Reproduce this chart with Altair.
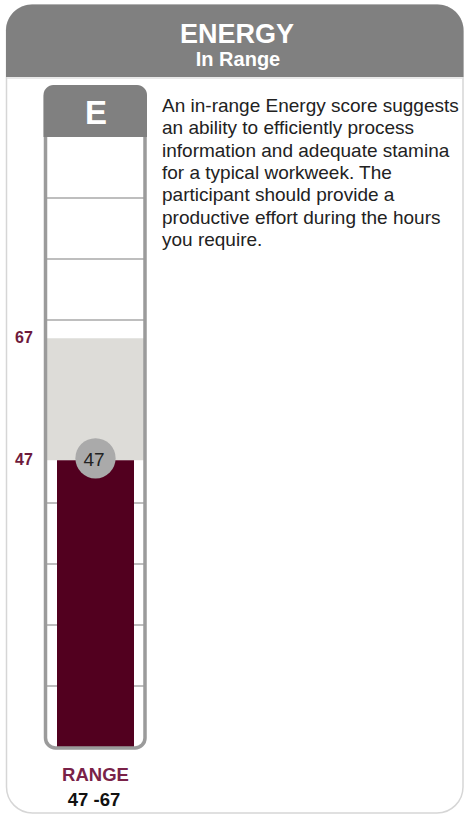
import altair as alt
import pandas as pd

# ---- content -------------------------------------------------------------
title = "ENERGY"
status = "In Range"
letter = "E"
score = 47
range_low = 47
range_high = 67
scale_min, scale_max = 0, 100
grid_values = [10, 20, 30, 40, 50, 60, 70, 80, 90]
range_marks = [range_high, range_low]
description = [
    "An in-range Energy score suggests",
    "an ability to efficiently process",
    "information and adequate stamina",
    "for a typical workweek. The",
    "participant should provide a",
    "productive effort during the hours",
    "you require.",
]

# ---- styling -------------------------------------------------------------
FONT = "Liberation Sans"
MAROON = "#52001f"
LABEL_MAROON = "#6e1a3c"
HEADER_GRAY = "#808080"

y_scale = alt.Scale(domain=[scale_min, scale_max], range=[747, 137])

one = pd.DataFrame({"k": [0]})
header_df = pd.DataFrame({"title": [title], "status": [status], "letter": [letter]})
gauge_df = pd.DataFrame({
    "base": [scale_min],
    "score": [score],
    "label": [str(score)],
    "lo": [range_low],
    "hi": [range_high],
    "range_text": [f"{range_low} -{range_high}"],
    "range_title": ["RANGE"],
})
grid_df = pd.DataFrame({"v": grid_values})
marks_df = pd.DataFrame({"v": range_marks, "t": [str(v) for v in range_marks]})
text_df = pd.DataFrame({"para": ["\n".join(description)]})

# card frame
card = alt.Chart(one).mark_rect(
    fill="white", stroke="#d6d6d6", strokeWidth=1.5, cornerRadius=26
).encode(x=alt.value(6.5), x2=alt.value(463), y=alt.value(5), y2=alt.value(813))

header = alt.Chart(one).mark_rect(
    color=HEADER_GRAY, cornerRadiusTopLeft=26, cornerRadiusTopRight=26
).encode(x=alt.value(6), x2=alt.value(463.5), y=alt.value(4.5), y2=alt.value(77))

header_line = alt.Chart(one).mark_rule(color="#e2e2e2", strokeWidth=1.5).encode(
    x=alt.value(7), x2=alt.value(463), y=alt.value(78)
)

title_text = alt.Chart(header_df).mark_text(
    font=FONT, fontSize=27, fontWeight="bold", color="white",
    align="center", baseline="alphabetic",
).encode(x=alt.value(237), y=alt.value(43), text="title:N")

status_text = alt.Chart(header_df).mark_text(
    font=FONT, fontSize=20, fontWeight="bold", color="white",
    align="center", baseline="alphabetic",
).encode(x=alt.value(238), y=alt.value(66), text="status:N")

# gauge
grid = alt.Chart(grid_df).mark_rule(color="#bebebe", strokeWidth=2).encode(
    y=alt.Y("v:Q", scale=y_scale, axis=None), x=alt.value(46), x2=alt.value(144)
)

band = alt.Chart(gauge_df).mark_rect(color="#dddcd8").encode(
    y=alt.Y("lo:Q", scale=y_scale, axis=None), y2="hi:Q",
    x=alt.value(46), x2=alt.value(144),
)

bar = alt.Chart(gauge_df).mark_rect(color=MAROON).encode(
    y=alt.Y("base:Q", scale=y_scale, axis=None), y2="score:Q",
    x=alt.value(57), x2=alt.value(134),
)

outline = alt.Chart(one).mark_rect(
    fill="transparent", stroke="#9b9b9b", strokeWidth=3.5, cornerRadius=10
).encode(x=alt.value(45.5), x2=alt.value(145), y=alt.value(87), y2=alt.value(748))

cap = alt.Chart(one).mark_rect(
    color=HEADER_GRAY, cornerRadiusTopLeft=10, cornerRadiusTopRight=10
).encode(x=alt.value(43.5), x2=alt.value(147), y=alt.value(85), y2=alt.value(137))

cap_text = alt.Chart(header_df).mark_text(
    font=FONT, fontSize=33, fontWeight="bold", color="white",
    align="center", baseline="alphabetic",
).encode(x=alt.value(96), y=alt.value(124), text="letter:N")

dot = alt.Chart(gauge_df).mark_circle(
    size=1620, color="#aaaaaa", opacity=1, yOffset=-2
).encode(y=alt.Y("score:Q", scale=y_scale, axis=None), x=alt.value(95.5))

dot_text = alt.Chart(gauge_df).mark_text(
    font=FONT, fontSize=19, color="#222222", align="center", baseline="middle"
).encode(y=alt.Y("score:Q", scale=y_scale, axis=None), x=alt.value(94), text="label:N")

side_labels = alt.Chart(marks_df).mark_text(
    font=FONT, fontSize=16, fontWeight="bold", color=LABEL_MAROON,
    align="center", baseline="middle",
).encode(y=alt.Y("v:Q", scale=y_scale, axis=None), x=alt.value(24), text="t:N")

range_title = alt.Chart(gauge_df).mark_text(
    font=FONT, fontSize=18.5, fontWeight="bold", color="#7a2248",
    align="center", baseline="alphabetic",
).encode(x=alt.value(95.5), y=alt.value(781), text="range_title:N")

range_text = alt.Chart(gauge_df).mark_text(
    font=FONT, fontSize=18.5, fontWeight="bold", color="#111111",
    align="center", baseline="alphabetic",
).encode(x=alt.value(94), y=alt.value(806), text="range_text:N")

paragraph = alt.Chart(text_df).mark_text(
    font=FONT, fontSize=19, color="#222222", align="left", baseline="alphabetic",
    lineBreak="\n", lineHeight=22.3,
).encode(x=alt.value(162), y=alt.value(112), text="para:N")

chart = alt.layer(
    card, header, header_line, title_text, status_text,
    grid, band, bar, outline, cap, cap_text, dot, dot_text,
    side_labels, range_title, range_text, paragraph,
).properties(
    width=466, height=817, autosize="none", padding=0, background="white"
).configure_view(stroke=None)

chart.save("out.html", embed_options={"renderer": "svg", "actions": False})
